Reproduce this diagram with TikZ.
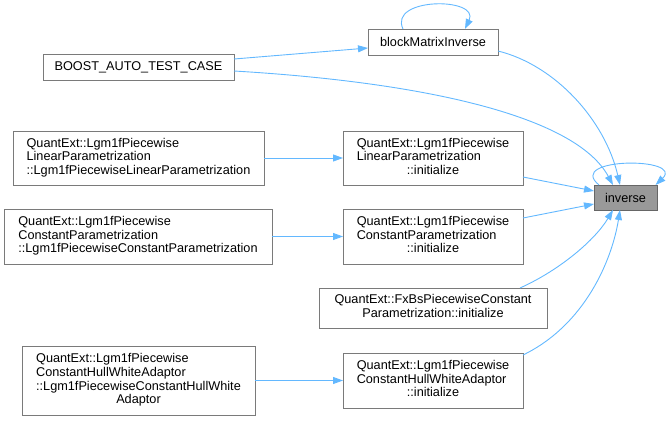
\documentclass[tikz,border=0pt]{standalone}
\usepackage{fontspec}
\setmainfont{Liberation Sans}
\usetikzlibrary{arrows.meta}
\definecolor{edgeblue}{HTML}{63B8FF}
\definecolor{boxborder}{HTML}{7A7A7A}
\definecolor{hifill}{HTML}{999999}
\definecolor{hiborder}{HTML}{666666}
\newcommand{\lastc}[1]{\multicolumn{1}{@{}c@{}}{#1}}
\begin{document}
\begin{tikzpicture}[x=1pt,y=-1pt,
  fnc/.style={draw=boxborder, line width=1pt, fill=white, inner sep=0pt, outer sep=0pt,
    font=\fontsize{12.7}{13.7}\selectfont},
  hinode/.style={fnc, draw=hiborder, fill=hifill},
  edge/.style={draw=edgeblue, line width=0.9pt, -{Triangle[length=10pt,width=7pt]}}]
\useasboundingbox (0,0) rectangle (667,421);

\node[fnc, minimum width=191, minimum height=26] (boost) at (138.5,67) {BOOST\_AUTO\_TEST\_CASE};
\node[fnc, minimum width=130, minimum height=26] (bmi) at (433,42) {blockMatrixInverse};
\node[hinode, minimum width=63, minimum height=25] (inv) at (625.5,197.5) {inverse};

\node[fnc, minimum width=251, minimum height=54] (linctor) at (138.5,158)
  {\begin{tabular}{@{}l@{}}QuantExt::Lgm1fPiecewise\\LinearParametrization\\\lastc{::Lgm1fPiecewiseLinearParametrization}\end{tabular}};
\node[fnc, minimum width=268, minimum height=55] (conctor) at (138,236.5)
  {\begin{tabular}{@{}l@{}}QuantExt::Lgm1fPiecewise\\ConstantParametrization\\\lastc{::Lgm1fPiecewiseConstantParametrization}\end{tabular}};
\node[fnc, minimum width=180, minimum height=54] (lininit) at (433,158)
  {\begin{tabular}{@{}l@{}}QuantExt::Lgm1fPiecewise\\LinearParametrization\\\lastc{::initialize}\end{tabular}};
\node[fnc, minimum width=180, minimum height=55] (coninit) at (433,236.5)
  {\begin{tabular}{@{}l@{}}QuantExt::Lgm1fPiecewise\\ConstantParametrization\\\lastc{::initialize}\end{tabular}};
\node[fnc, minimum width=228, minimum height=40] (fxbs) at (433,308)
  {\begin{tabular}{@{}l@{}}QuantExt::FxBsPiecewiseConstant\\\lastc{Parametrization::initialize}\end{tabular}};
\node[fnc, minimum width=180, minimum height=55] (hwinit) at (433,380.5)
  {\begin{tabular}{@{}l@{}}QuantExt::Lgm1fPiecewise\\ConstantHullWhiteAdaptor\\\lastc{::initialize}\end{tabular}};
\node[fnc, minimum width=233, minimum height=69] (hwctor) at (138.5,380.5)
  {\begin{tabular}{@{}l@{}}QuantExt::Lgm1fPiecewise\\ConstantHullWhiteAdaptor\\::Lgm1fPiecewiseConstantHullWhite\\\lastc{Adaptor}\end{tabular}};

% edges
\draw[edge] ([yshift=8pt]boost.east) -- ([yshift=-6pt]bmi.west);
\draw[edge] ([yshift=-4pt]boost.east) .. controls (420,82) and (575,115) .. ([xshift=-12.5pt]inv.north);
\draw[edge] ([yshift=-9pt]bmi.east) .. controls (555,65) and (605,120) .. ([xshift=-5.5pt]inv.north);
\draw[edge] ([xshift=-30pt]bmi.north) .. controls (388,-3) and (480,-3) .. ([xshift=32pt]bmi.north);
\draw[edge] ([xshift=5pt]inv.north west) .. controls (565,157) and (685,157) .. ([xshift=-1.5pt]inv.north east);
\draw[edge] (linctor.east) -- (lininit.west);
\draw[edge] (conctor.east) -- (coninit.west);
\draw[edge] (hwctor.east) -- (hwinit.west);
\draw[edge] ([yshift=-19pt]lininit.east) -- ([yshift=6.5pt]inv.west);
\draw[edge] ([yshift=18.5pt]coninit.east) -- ([yshift=-6.5pt]inv.west);
\draw[edge] ([xshift=-27pt]fxbs.north east) .. controls (560,270) and (595,240) .. ([xshift=-12.5pt]inv.south);
\draw[edge] ([yshift=25.5pt]hwinit.east) .. controls (585,325) and (612,260) .. ([xshift=-5.5pt]inv.south);
\end{tikzpicture}
\end{document}
